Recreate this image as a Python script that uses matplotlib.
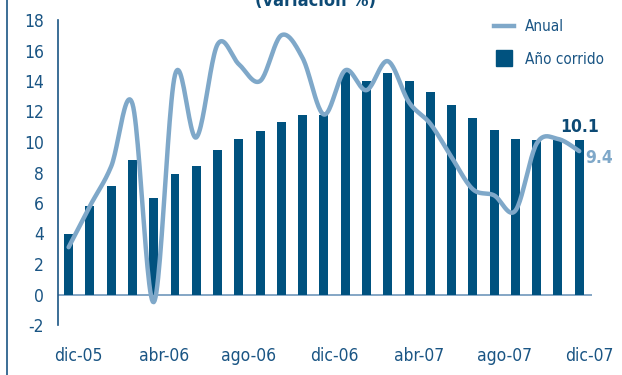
import numpy as np
import matplotlib
matplotlib.use("Agg")
import matplotlib.pyplot as plt
from matplotlib.lines import Line2D

months = ["dic-05", "ene-06", "feb-06", "mar-06", "abr-06", "may-06", "jun-06",
          "jul-06", "ago-06", "sep-06", "oct-06", "nov-06", "dic-06", "ene-07",
          "feb-07", "mar-07", "abr-07", "may-07", "jun-07", "jul-07", "ago-07",
          "sep-07", "oct-07", "nov-07", "dic-07"]
ano_corrido = [4.0, 5.8, 7.1, 8.8, 6.3, 7.9, 8.4, 9.5, 10.2, 10.7, 11.3, 11.8,
               11.8, 14.6, 14.0, 14.5, 14.0, 13.3, 12.4, 11.6, 10.8, 10.2,
               10.1, 10.1, 10.1]
anual = [3.1, 5.8, 8.4, 12.5, -0.5, 14.4, 10.3, 16.4, 15.1, 14.0, 17.0, 15.5,
         11.8, 14.7, 13.4, 15.3, 12.6, 11.2, 9.0, 6.9, 6.5, 5.5, 9.9, 10.2, 9.4]
tick_labels = ["dic-05", "abr-06", "ago-06", "dic-06", "abr-07", "ago-07", "dic-07"]
title = "(variación %)"

DARK = "#00527f"
LIGHT = "#7fa8c9"
TXT = "#1a5584"

plt.rcParams['font.family'] = ['DejaVu Sans']
plt.rcParams['font.stretch'] = 'condensed'

def catmull_rom(x, y, n=24):
    x = np.asarray(x, float); y = np.asarray(y, float)
    px = np.concatenate([[x[0]], x, [x[-1]]])
    py = np.concatenate([[y[0]], y, [y[-1]]])
    xs, ys = [], []
    t = np.linspace(0, 1, n, endpoint=False)
    for i in range(1, len(px) - 2):
        for p, out in ((px, xs), (py, ys)):
            P0, P1, P2, P3 = p[i-1], p[i], p[i+1], p[i+2]
            out.extend(0.5 * (2*P1 + (-P0 + P2)*t + (2*P0 - 5*P1 + 4*P2 - P3)*t**2
                              + (-P0 + 3*P1 - 3*P2 + P3)*t**3))
    xs.append(x[-1]); ys.append(y[-1])
    return np.array(xs), np.array(ys)

fig = plt.figure(figsize=(6.22, 3.75), dpi=100)
ax = fig.add_axes([58/622, 50/375, (592-58)/622, (325-20)/375])

x = np.arange(len(months))
ax.bar(x, ano_corrido, width=0.42, color=DARK, zorder=2)
sx, sy = catmull_rom(x, anual)
ax.plot(sx, sy, color=LIGHT, lw=3.2, solid_capstyle='round', zorder=3)

ax.axhline(0, color="#6f97bb", lw=1.2, zorder=1)
ax.set_xlim(-0.5, 24.6)
ax.set_ylim(-2, 18)
ax.set_yticks(range(-2, 19, 2))
ax.set_yticklabels([str(v) for v in range(-2, 19, 2)])
ax.set_xticks([months.index(m) + 0.48 for m in tick_labels])
ax.set_xticklabels(tick_labels)
ax.tick_params(axis='both', length=0, labelsize=12.5, colors=TXT)
ax.tick_params(axis='y', pad=10)
ax.tick_params(axis='x', pad=16)
for s in ['top', 'right', 'bottom']:
    ax.spines[s].set_visible(False)
ax.spines['left'].set_color(TXT)
ax.spines['left'].set_linewidth(1.2)

ax.annotate(f"{ano_corrido[-1]:.1f}", (x[-1], ano_corrido[-1]), xytext=(0, 10),
            textcoords='offset points', ha='center', va='center',
            fontsize=12.5, fontweight='bold', color="#0d4a75")
ax.annotate(f"{anual[-1]:.1f}", (x[-1], anual[-1]), xytext=(14, -5),
            textcoords='offset points', ha='center', va='center',
            fontsize=12.5, fontweight='bold', color=LIGHT)

handles = [Line2D([0], [0], color=LIGHT, lw=3.2),
           Line2D([0], [0], color=DARK, lw=0, marker='s', markersize=11)]
leg = fig.legend(handles, ["Anual", "Año corrido"], loc='upper left',
                 bbox_to_anchor=(494/622, 1 - 19/375), frameon=False, fontsize=11,
                 handlelength=1.3, handletextpad=0.72, labelspacing=1.15,
                 borderpad=0, borderaxespad=0)
for t in leg.get_texts():
    t.set_color(TXT)

fig.text(315/622, 1 - 6/375, title, ha='center', va='baseline',
         fontsize=13, fontweight='bold', color="#0d4a75")
fig.add_artist(Line2D([7/622, 7/622], [0, 1], transform=fig.transFigure,
                      color=TXT, lw=1.2))

fig.savefig("out.png", dpi=100)
